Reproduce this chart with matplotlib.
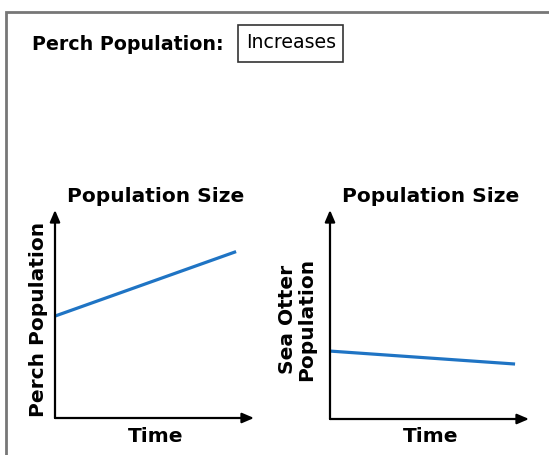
import matplotlib.pyplot as plt
from matplotlib.patches import Rectangle

W, H = 549, 455

# data (0-10 scale on both axes)
perch_time = [0, 9.1]
perch_pop = [4.9, 8.0]
otter_time = [0, 9.3]
otter_pop = [3.25, 2.63]

header_label = "Perch Population:"
header_value = "Increases"
chart_title = "Population Size"
x_label = "Time"
perch_ylabel = "Perch Population"
otter_ylabel = "Sea Otter\nPopulation"

line_color = "#1f74c4"

fig = plt.figure(figsize=(W / 100, H / 100), dpi=100)
plt.rcParams['font.family'] = ['DejaVu Sans']


def px(x, y):
    # pixel coords (top-left origin) -> figure fraction
    return x / W, 1 - y / H


# outer frame, only top/left/right visible
fig.patches.append(Rectangle(px(5.5, 470), (W + 20) / W, (470 - 11.5) / H,
                             transform=fig.transFigure, fill=False,
                             edgecolor="#777777", linewidth=2))

fx, fy = px(32, 44)
fig.text(fx, fy, header_label, fontsize=13.7, fontweight="bold", va="center", ha="left")
bx, by = px(238, 62)
fig.patches.append(Rectangle((bx, by), 105 / W, 37 / H, transform=fig.transFigure,
                             fill=False, edgecolor="#333333", linewidth=1.2))
tx, ty = px(291, 43)
fig.text(tx, ty, header_value, fontsize=13.6, va="center", ha="center")


def make_panel(left, right, top, bottom, t, pop, ylabel, ylabel_x):
    x0, y0 = px(left, bottom)
    x1, y1 = px(right, top)
    ax = fig.add_axes([x0, y0, x1 - x0, y1 - y0])
    ax.plot(t, pop, color=line_color, linewidth=2.3, solid_capstyle="butt")
    ax.set_xlim(0, 10)
    ax.set_ylim(0, 10)
    for s in ax.spines.values():
        s.set_visible(False)
    ax.set_xticks([])
    ax.set_yticks([])
    ax.patch.set_alpha(0)
    arrow = dict(arrowstyle="-|>,head_length=0.7,head_width=0.3", color="black",
                 linewidth=1.6, shrinkA=0, shrinkB=0)
    ax.annotate("", xy=(0, 1), xytext=(0, 0), xycoords="axes fraction", arrowprops=arrow)
    ax.annotate("", xy=(1, 0), xytext=(0, 0), xycoords="axes fraction", arrowprops=arrow)
    cx = (left + right) / 2 + 1
    fig.text(*px(cx, 197), chart_title, fontsize=14.5, fontweight="bold", ha="center", va="center")
    fig.text(*px(cx, 436), x_label, fontsize=14.5, fontweight="bold", ha="center", va="center")
    fig.text(*px(ylabel_x, 319), ylabel, fontsize=14.5, fontweight="bold", rotation=90,
             ha="center", va="center", linespacing=0.95)
    return ax


make_panel(55, 254, 210, 418, perch_time, perch_pop, perch_ylabel, 39)
make_panel(330, 529, 210, 419, otter_time, otter_pop, otter_ylabel, 297)

fig.savefig("out.png", dpi=100)
